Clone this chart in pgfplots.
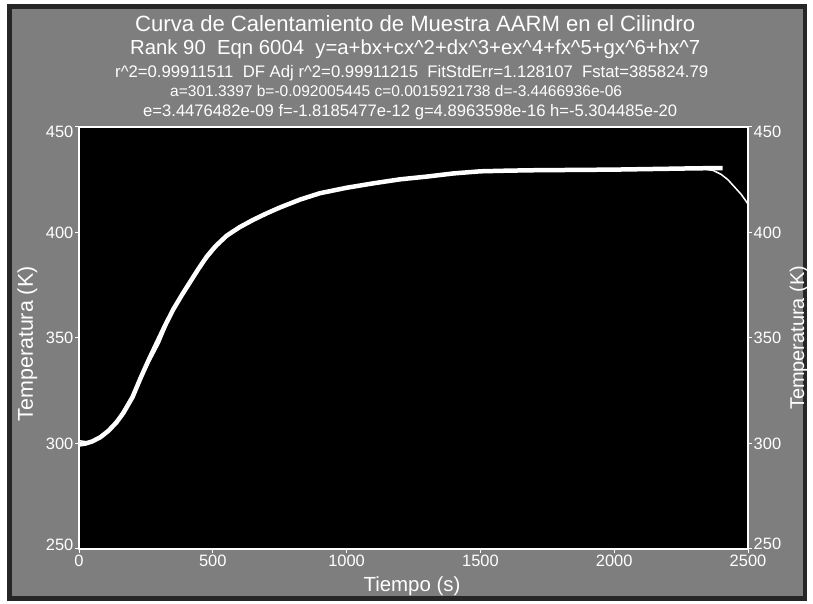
\documentclass[border=0pt]{standalone}
\usepackage{fontspec}
\setmainfont{Liberation Sans}
\usepackage{pgfplots}
\pgfplotsset{compat=1.18}
\definecolor{bggray}{RGB}{126,126,126}
\begin{document}
\begin{tikzpicture}[x=1bp,y=1bp]
\useasboundingbox (0,0) rectangle (813,604);
\fill[white] (0,0) rectangle (813,604);
\fill[black!85] (7,3) rectangle (807,600);
\fill[bggray] (12,8) rectangle (803,595);
% title block
\node[anchor=base west, inner sep=0, text=white] at (135,572.3) {\resizebox{560bp}{!}{Curva de Calentamiento de Muestra AARM en el Cilindro}};
\node[anchor=base west, inner sep=0, text=white] at (130,549) {\resizebox{570bp}{!}{Rank 90\ \ Eqn 6004\ \ y=a+bx+cx\textasciicircum 2+dx\textasciicircum 3+ex\textasciicircum 4+fx\textasciicircum 5+gx\textasciicircum 6+hx\textasciicircum 7}};
\node[anchor=base west, inner sep=0, text=white] at (115,526) {\resizebox{593bp}{!}{r\textasciicircum 2=0.99911511\ \ DF Adj r\textasciicircum 2=0.99911215\ \ FitStdErr=1.128107\ \ Fstat=385824.79}};
\node[anchor=base west, inner sep=0, text=white] at (170,507) {\resizebox{452bp}{!}{a=301.3397 b=-0.092005445 c=0.0015921738 d=-3.4466936e-06}};
\node[anchor=base west, inner sep=0, text=white] at (143,487) {\resizebox{534bp}{!}{e=3.4476482e-09 f=-1.8185477e-12 g=4.8963598e-16 h=-5.304485e-20}};
\begin{axis}[
  at={(79bp,55bp)}, anchor=south west,
  width=669bp, height=422bp, scale only axis,
  xmin=0, xmax=2500, ymin=250, ymax=450,
  xtick={0,500,...,2500}, ytick={250,300,...,450},
  yticklabels={\raisebox{4bp}[\height][\depth]{250},300,350,400,\raisebox{-5bp}[\height][\depth]{450}},
  xtick pos=bottom, ytick pos=left,
  tick align=outside, major tick length=4bp,
  axis background/.style={fill=black},
  axis line style={white, line width=1.3bp},
  major tick style={white, line width=1bp},
  tick label style={text=white, font=\fontsize{16.5}{18}\selectfont, inner sep=1.5bp},
  /pgf/number format/assume math mode=true,
  /pgf/number format/set thousands separator={},
  scaled ticks=false,
  xlabel={Tiempo (s)}, ylabel={Temperatura (K)},
  every axis x label/.style={at={(axis description cs:0.4978,0)}, anchor=base, yshift=-43bp, text=white, font=\fontsize{20.5}{22}\selectfont},
  every axis y label/.style={at={(axis description cs:-0.0688,0.486)}, rotate=90, anchor=base, text=white, font=\fontsize{21.5}{23}\selectfont},
]
% fitted polynomial (thin)
\addplot[white, line width=1.5bp] coordinates {
(0,301.3) (50,300.5) (100,304.5) (150,312.5) (200,323) (250,335.5) (300,347.5)
(352,363.5) (400,372.5) (445,382.5) (500,391) (552,398.5) (600,402.5) (651,406)
(700,409) (750,411.8) (826,415.6) (900,418.6) (1000,421.2) (1100,423.3) (1200,425.2)
(1300,426.5) (1400,428) (1500,429) (1600,429.3) (1700,429.5) (1800,429.6)
(1900,429.7) (2000,429.8) (2100,430) (2200,430.2) (2300,430.3) (2340,430)
(2370,429.4) (2400,427.5) (2425,425) (2450,421.5) (2475,418) (2500,413.5)
};
% measured data (thick)
\addplot[white, line width=4.5bp, line join=round] coordinates {
(0,299.5) (25,300) (50,301) (80,303) (110,306) (140,310) (166,314.5) (200,322)
(230,331) (260,339.5) (290,347.5) (320,355.5) (352,363.5) (385,370.5) (415,376.5)
(445,382.5) (477,388.5) (510,393.5) (552,398.5) (600,402.5) (651,406) (700,409)
(750,411.8) (826,415.6) (900,418.6) (1000,421.2) (1100,423.3) (1200,425.2)
(1300,426.5) (1400,428) (1500,429) (1600,429.3) (1700,429.5) (1800,429.6)
(1900,429.7) (2000,429.8) (2100,430) (2200,430.2) (2300,430.4) (2370,430.5)
(2405,430.5)
};
\end{axis}
\begin{axis}[
  at={(79bp,55bp)}, anchor=south west,
  width=669bp, height=422bp, scale only axis,
  xmin=0, xmax=2500, ymin=250, ymax=450,
  axis x line=none, axis y line*=right,
  ytick={250,300,...,450},
  yticklabels={\raisebox{5bp}[\height][\depth]{250},300,350,400,\raisebox{-5bp}[\height][\depth]{450}},
  tick align=outside, major tick length=4bp,
  axis line style={white, line width=1.3bp},
  major tick style={white, line width=1bp},
  tick label style={text=white, font=\fontsize{16.5}{18}\selectfont, inner sep=1.5bp},
  /pgf/number format/assume math mode=true,
  ylabel={Temperatura (K)},
  every axis y label/.style={at={(axis description cs:1.0837,0.5)}, rotate=90, anchor=base, text=white, font=\fontsize{20}{22}\selectfont},
]
\end{axis}
\end{tikzpicture}
\end{document}
